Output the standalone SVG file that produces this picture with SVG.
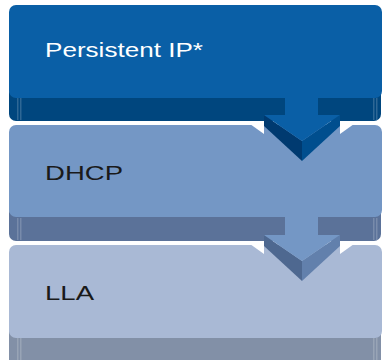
<svg xmlns="http://www.w3.org/2000/svg" width="382" height="360" viewBox="0 0 382 360">
<style>
.lbl{font-family:"Liberation Sans",Arial,sans-serif;font-size:20px}
.stripe{fill:#ffffff;opacity:0.18}
</style>
<rect width="382" height="360" fill="#ffffff"/>
<g id="node-persistent">
  <rect x="9" y="86" width="372" height="35" rx="7" fill="#00467e"/>
  <rect x="17" y="98" width="1.5" height="22" class="stripe"/>
  <rect x="20" y="98" width="1.5" height="22" class="stripe"/>
  <rect x="373" y="98" width="1.5" height="22" class="stripe"/>
  <rect x="376" y="98" width="1.5" height="22" class="stripe"/>
  <rect x="9" y="5" width="373" height="93" rx="7" fill="#0a5fa6"/>
  <text x="45" y="57" class="lbl" fill="#ffffff" textLength="158" lengthAdjust="spacingAndGlyphs">Persistent IP*</text>
</g>
<g id="node-dhcp">
  <rect x="9" y="206" width="372" height="35" rx="7" fill="#5b7299"/>
  <rect x="17" y="218" width="1.5" height="22" class="stripe"/>
  <rect x="20" y="218" width="1.5" height="22" class="stripe"/>
  <rect x="373" y="218" width="1.5" height="22" class="stripe"/>
  <rect x="376" y="218" width="1.5" height="22" class="stripe"/>
  <rect x="9" y="125" width="373" height="92" rx="7" fill="#7497c5"/>
  <text x="45" y="180" class="lbl" fill="#1a1a1a" textLength="78" lengthAdjust="spacingAndGlyphs">DHCP</text>
</g>
<g id="node-lla">
  <rect x="9" y="326" width="372" height="40" rx="7" fill="#8290a7"/>
  <rect x="17" y="338" width="1.5" height="22" class="stripe"/>
  <rect x="20" y="338" width="1.5" height="22" class="stripe"/>
  <rect x="373" y="338" width="1.5" height="22" class="stripe"/>
  <rect x="376" y="338" width="1.5" height="22" class="stripe"/>
  <rect x="9" y="245" width="373" height="93" rx="7" fill="#a9b9d5"/>
  <text x="45" y="300" class="lbl" fill="#1a1a1a" textLength="49" lengthAdjust="spacingAndGlyphs">LLA</text>
</g>
<g id="connectors">
  <g id="arrow1">
    <polygon points="250,124 264,124 264,134" fill="#ffffff"/>
    <polygon points="354,124 340,124 340,134" fill="#ffffff"/>
    <rect x="285" y="97" width="33" height="19" fill="#0a5fa6"/>
    <polygon points="264,115 264,126 302,161 302,141" fill="#003a70"/>
    <polygon points="340,115 340,126 302,161 302,141" fill="#004e8e"/>
    <polygon points="264,115 340,115 302,141" fill="#0a5fa6"/>
  </g>
  <g id="arrow2">
    <polygon points="250,244 264,244 264,254" fill="#ffffff"/>
    <polygon points="354,244 340,244 340,254" fill="#ffffff"/>
    <rect x="285" y="217" width="33" height="19" fill="#7497c5"/>
    <polygon points="264,235 264,246 302,281 302,261" fill="#4e6890"/>
    <polygon points="340,235 340,246 302,281 302,261" fill="#6280ac"/>
    <polygon points="264,235 340,235 302,261" fill="#7497c5"/>
  </g>
</g>
</svg>
